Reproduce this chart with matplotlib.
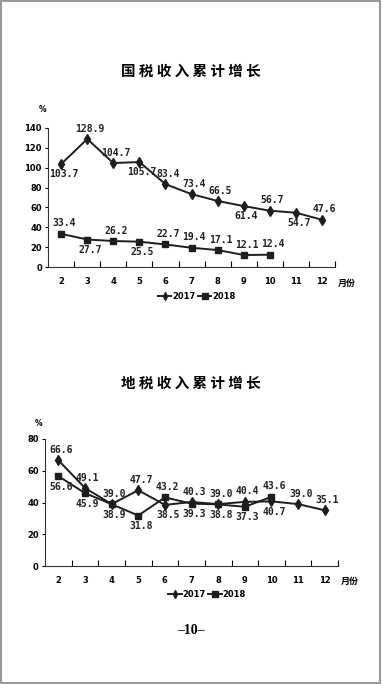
import matplotlib
matplotlib.use("Agg")
import matplotlib.pyplot as plt
from matplotlib.patches import Rectangle

plt.rcParams["font.family"] = ["DejaVu Sans", "Noto Sans CJK SC"]
CJK = ["Noto Sans CJK SC", "DejaVu Sans"]
MONO = "DejaVu Sans Mono"

months = [2, 3, 4, 5, 6, 7, 8, 9, 10, 11, 12]
month_labels = ["2", "3", "4", "5", "6", "7", "8", "9", "10", "11", "12"]

# national tax (国税)
guo_2017 = [103.7, 128.9, 104.7, 105.7, 83.4, 73.4, 66.5, 61.4, 56.7, 54.7, 47.6]
guo_2018 = [33.4, 27.7, 26.2, 25.5, 22.7, 19.4, 17.1, 12.1, 12.4]

# local tax (地税)
di_2017 = [66.6, 49.1, 39.0, 47.7, 38.5, 40.3, 39.0, 40.4, 40.7, 39.0, 35.1]
di_2018 = [56.6, 45.9, 38.9, 31.8, 43.2, 39.3, 38.8, 37.3, 43.6]

# label placement: 1 = above, -1 = below
guo_2017_pos = [-1, 1, 1, -1, 1, 1, 1, -1, 1, -1, 1]
guo_2018_pos = [1, -1, 1, -1, 1, 1, 1, 1, 1]
di_2017_pos = [1, 1, 1, 1, -1, 1, 1, 1, -1, 1, 1]
di_2018_pos = [-1, -1, -1, -1, 1, -1, -1, -1, 1]

LINE = "#1e1e1e"


def draw(ax, y17, y18, p17, p18, ymax, ystep):
    x18 = months[:len(y18)]
    ax.plot(months, y17, color=LINE, lw=1.4, marker="d", ms=5, label="2017")
    ax.plot(x18, y18, color=LINE, lw=1.4, marker="s", ms=5, label="2018")
    for xs, ys, ps in [(months, y17, p17), (x18, y18, p18)]:
        for x, y, p in zip(xs, ys, ps):
            ax.annotate(f"{y:.1f}", (x, y), xytext=(2, 7.5 * p), textcoords="offset points",
                        ha="center", va="center", fontsize=7, fontweight="bold",
                        color="#222", family=MONO)
    ax.set_xlim(1.5, 12.5)
    ax.set_ylim(0, ymax)
    ax.set_yticks(range(0, ymax + 1, ystep))
    ax.set_xticks(months)
    ax.set_xticklabels(month_labels)
    ax.set_xticks([m + 0.5 for m in months], minor=True)
    ax.tick_params(axis="x", which="major", length=0, pad=7)
    ax.tick_params(axis="x", which="minor", direction="in", length=4, width=0.8)
    ax.tick_params(axis="y", direction="out", length=2.5, width=0.8, pad=2)
    for lab in ax.get_xticklabels() + ax.get_yticklabels():
        lab.set_fontsize(6)
        lab.set_fontweight("bold")
    for s in ["top", "right"]:
        ax.spines[s].set_visible(False)
    for s in ["left", "bottom"]:
        ax.spines[s].set_linewidth(0.8)
        ax.spines[s].set_color("#333")
    ax.text(12.62, -0.085, "月份", transform=ax.get_xaxis_transform(), ha="left", va="top",
            fontsize=6.5, fontweight="bold", family=CJK)


fig = plt.figure(figsize=(3.82, 6.84), dpi=100)

ax1 = fig.add_axes([0.126, 0.6096, 0.751, 0.2033])
draw(ax1, guo_2017, guo_2018, guo_2017_pos, guo_2018_pos, 140, 20)
ax2 = fig.add_axes([0.118, 0.1725, 0.767, 0.1857])
draw(ax2, di_2017, di_2018, di_2017_pos, di_2018_pos, 80, 20)

for ax, lx, ly in [(ax1, 0.515, 0.566), (ax2, 0.542, 0.131)]:
    leg = fig.legend(*ax.get_legend_handles_labels(), loc="center", bbox_to_anchor=(lx, ly),
                     ncol=2, frameon=False, handlelength=1.6, handletextpad=0.1,
                     columnspacing=0.3, prop={"size": 6, "weight": "bold"}, markerscale=0.8)

fig.text(0.5, 1 - 71 / 684, "国 税 收 入 累 计 增 长", ha="center", va="center",
         fontsize=10.5, fontweight="bold", family=CJK)
fig.text(0.5, 1 - 383 / 684, "地 税 收 入 累 计 增 长", ha="center", va="center",
         fontsize=10.5, fontweight="bold", family=CJK)
fig.text(43 / 382, 1 - 110 / 684, "%", ha="center", va="center", fontsize=5.5, fontweight="bold")
fig.text(39 / 382, 1 - 424 / 684, "%", ha="center", va="center", fontsize=5.5, fontweight="bold")
fig.text(0.5, 1 - 631 / 684, "–10–", ha="center", va="center", fontsize=10,
         fontweight="bold", family="Liberation Serif")

fig.patches.append(Rectangle((0.002, 0.002), 0.994, 0.996, transform=fig.transFigure,
                             fill=False, edgecolor="#999", linewidth=1.5))

fig.savefig("out.png", dpi=100)
